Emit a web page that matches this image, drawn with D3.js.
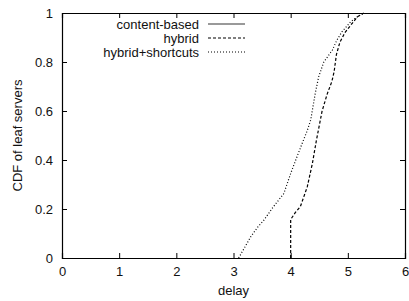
<!DOCTYPE html>
<html>
<head>
    <script src="https://d3js.org/d3.v7.min.js"></script>
    <style>
        body { margin: 0; background: #fff; }
        text { font-family: "Liberation Sans", Arial, sans-serif; }
    </style>
</head>
<body>
    <script>
        // delay / CDF pairs
        const contentBased = [];
        const hybridX = [4.0, 4.0, 4.08, 4.17, 4.29, 4.38, 4.45, 4.5, 4.55, 4.64, 4.72, 4.76, 4.8, 4.86, 4.95, 5.05, 5.17, 5.28];
        const hybridY = [0.0, 0.157, 0.185, 0.21, 0.29, 0.386, 0.48, 0.54, 0.6, 0.67, 0.72, 0.76, 0.83, 0.88, 0.92, 0.95, 0.985, 1.0];
        const shortcutX = [3.09, 3.2, 3.3, 3.42, 3.53, 3.7, 3.88, 4.0, 4.11, 4.2, 4.29, 4.35, 4.43, 4.49, 4.58, 4.73, 4.81, 4.9, 5.05, 5.17, 5.28];
        const shortcutY = [0.0, 0.045, 0.086, 0.125, 0.154, 0.21, 0.263, 0.345, 0.413, 0.467, 0.52, 0.563, 0.672, 0.74, 0.8, 0.849, 0.89, 0.924, 0.964, 0.985, 1.0];

        const xTicks = [0, 1, 2, 3, 4, 5, 6];
        const yTicks = [0, 0.2, 0.4, 0.6, 0.8, 1];
        const legendNames = ['content-based', 'hybrid', 'hybrid+shortcuts'];

        const margin = { top: 13, right: 4, bottom: 43, left: 62 };
        const width = 409 - margin.left - margin.right;
        const height = 301 - margin.top - margin.bottom;

        const svg = d3.select('body')
            .append('svg')
            .attr('width', 409)
            .attr('height', 301)
            .append('g')
            .attr('transform', `translate(${margin.left},${margin.top})`);

        const xScale = d3.scaleLinear().domain([0, 6]).range([0, width]);
        const yScale = d3.scaleLinear().domain([0, 1]).range([height, 0]);

        // ticks pointing inward on all four sides
        const tick = 5;
        svg.append('g')
            .attr('transform', `translate(0,${height})`)
            .call(d3.axisBottom(xScale).tickValues(xTicks).tickSize(-tick).tickPadding(9).tickFormat(d3.format('d')));
        svg.append('g')
            .call(d3.axisTop(xScale).tickValues(xTicks).tickSize(-tick).tickFormat(''));
        svg.append('g')
            .call(d3.axisLeft(yScale).tickValues(yTicks).tickSize(-tick).tickPadding(9).tickFormat(d => d === 0 || d === 1 ? d : d.toFixed(1)));
        svg.append('g')
            .attr('transform', `translate(${width},0)`)
            .call(d3.axisRight(yScale).tickValues(yTicks).tickSize(-tick).tickFormat(''));

        svg.selectAll('.domain').attr('stroke', '#000').attr('stroke-width', 1.2);
        svg.selectAll('.tick line').attr('stroke', '#000');
        svg.selectAll('.tick text')
            .attr('font-size', 13)
            .attr('fill', '#111')
            .style('font-family', '"Liberation Sans", Arial, sans-serif');

        const line = d3.line()
            .x(d => xScale(d[0]))
            .y(d => yScale(d[1]));

        const series = [
            { pts: contentBased, dash: null, color: '#777', w: 1.5 },
            { pts: hybridX.map((x, i) => [x, hybridY[i]]), dash: '3,2', color: '#000', w: 1.2 },
            { pts: shortcutX.map((x, i) => [x, shortcutY[i]]), dash: '1,2', color: '#000', w: 1.2 }
        ];

        series.forEach(s => {
            if (!s.pts.length) return;
            svg.append('path')
                .datum(s.pts)
                .attr('fill', 'none')
                .attr('stroke', s.color)
                .attr('stroke-width', s.w)
                .attr('stroke-dasharray', s.dash)
                .attr('d', line);
        });

        // legend
        const legend = svg.append('g').attr('transform', 'translate(137,11)');
        legendNames.forEach((name, i) => {
            const y = i * 14;
            legend.append('text')
                .attr('x', 0)
                .attr('y', y + 4.5)
                .attr('text-anchor', 'end')
                .attr('font-size', 13)
                .attr('fill', '#111')
                .text(name);
            legend.append('line')
                .attr('x1', 9).attr('x2', 46)
                .attr('y1', y).attr('y2', y)
                .attr('stroke', series[i].color)
                .attr('stroke-width', series[i].w)
                .attr('stroke-dasharray', series[i].dash);
        });

        // axis labels
        svg.append('text')
            .attr('x', width / 2)
            .attr('y', height + 37)
            .attr('text-anchor', 'middle')
            .attr('font-size', 13)
            .attr('fill', '#111')
            .text('delay');

        svg.append('text')
            .attr('x', -height / 2)
            .attr('y', -40)
            .attr('transform', 'rotate(-90)')
            .attr('text-anchor', 'middle')
            .attr('font-size', 13)
            .attr('fill', '#111')
            .text('CDF of leaf servers');
    </script>
</body>
</html>
